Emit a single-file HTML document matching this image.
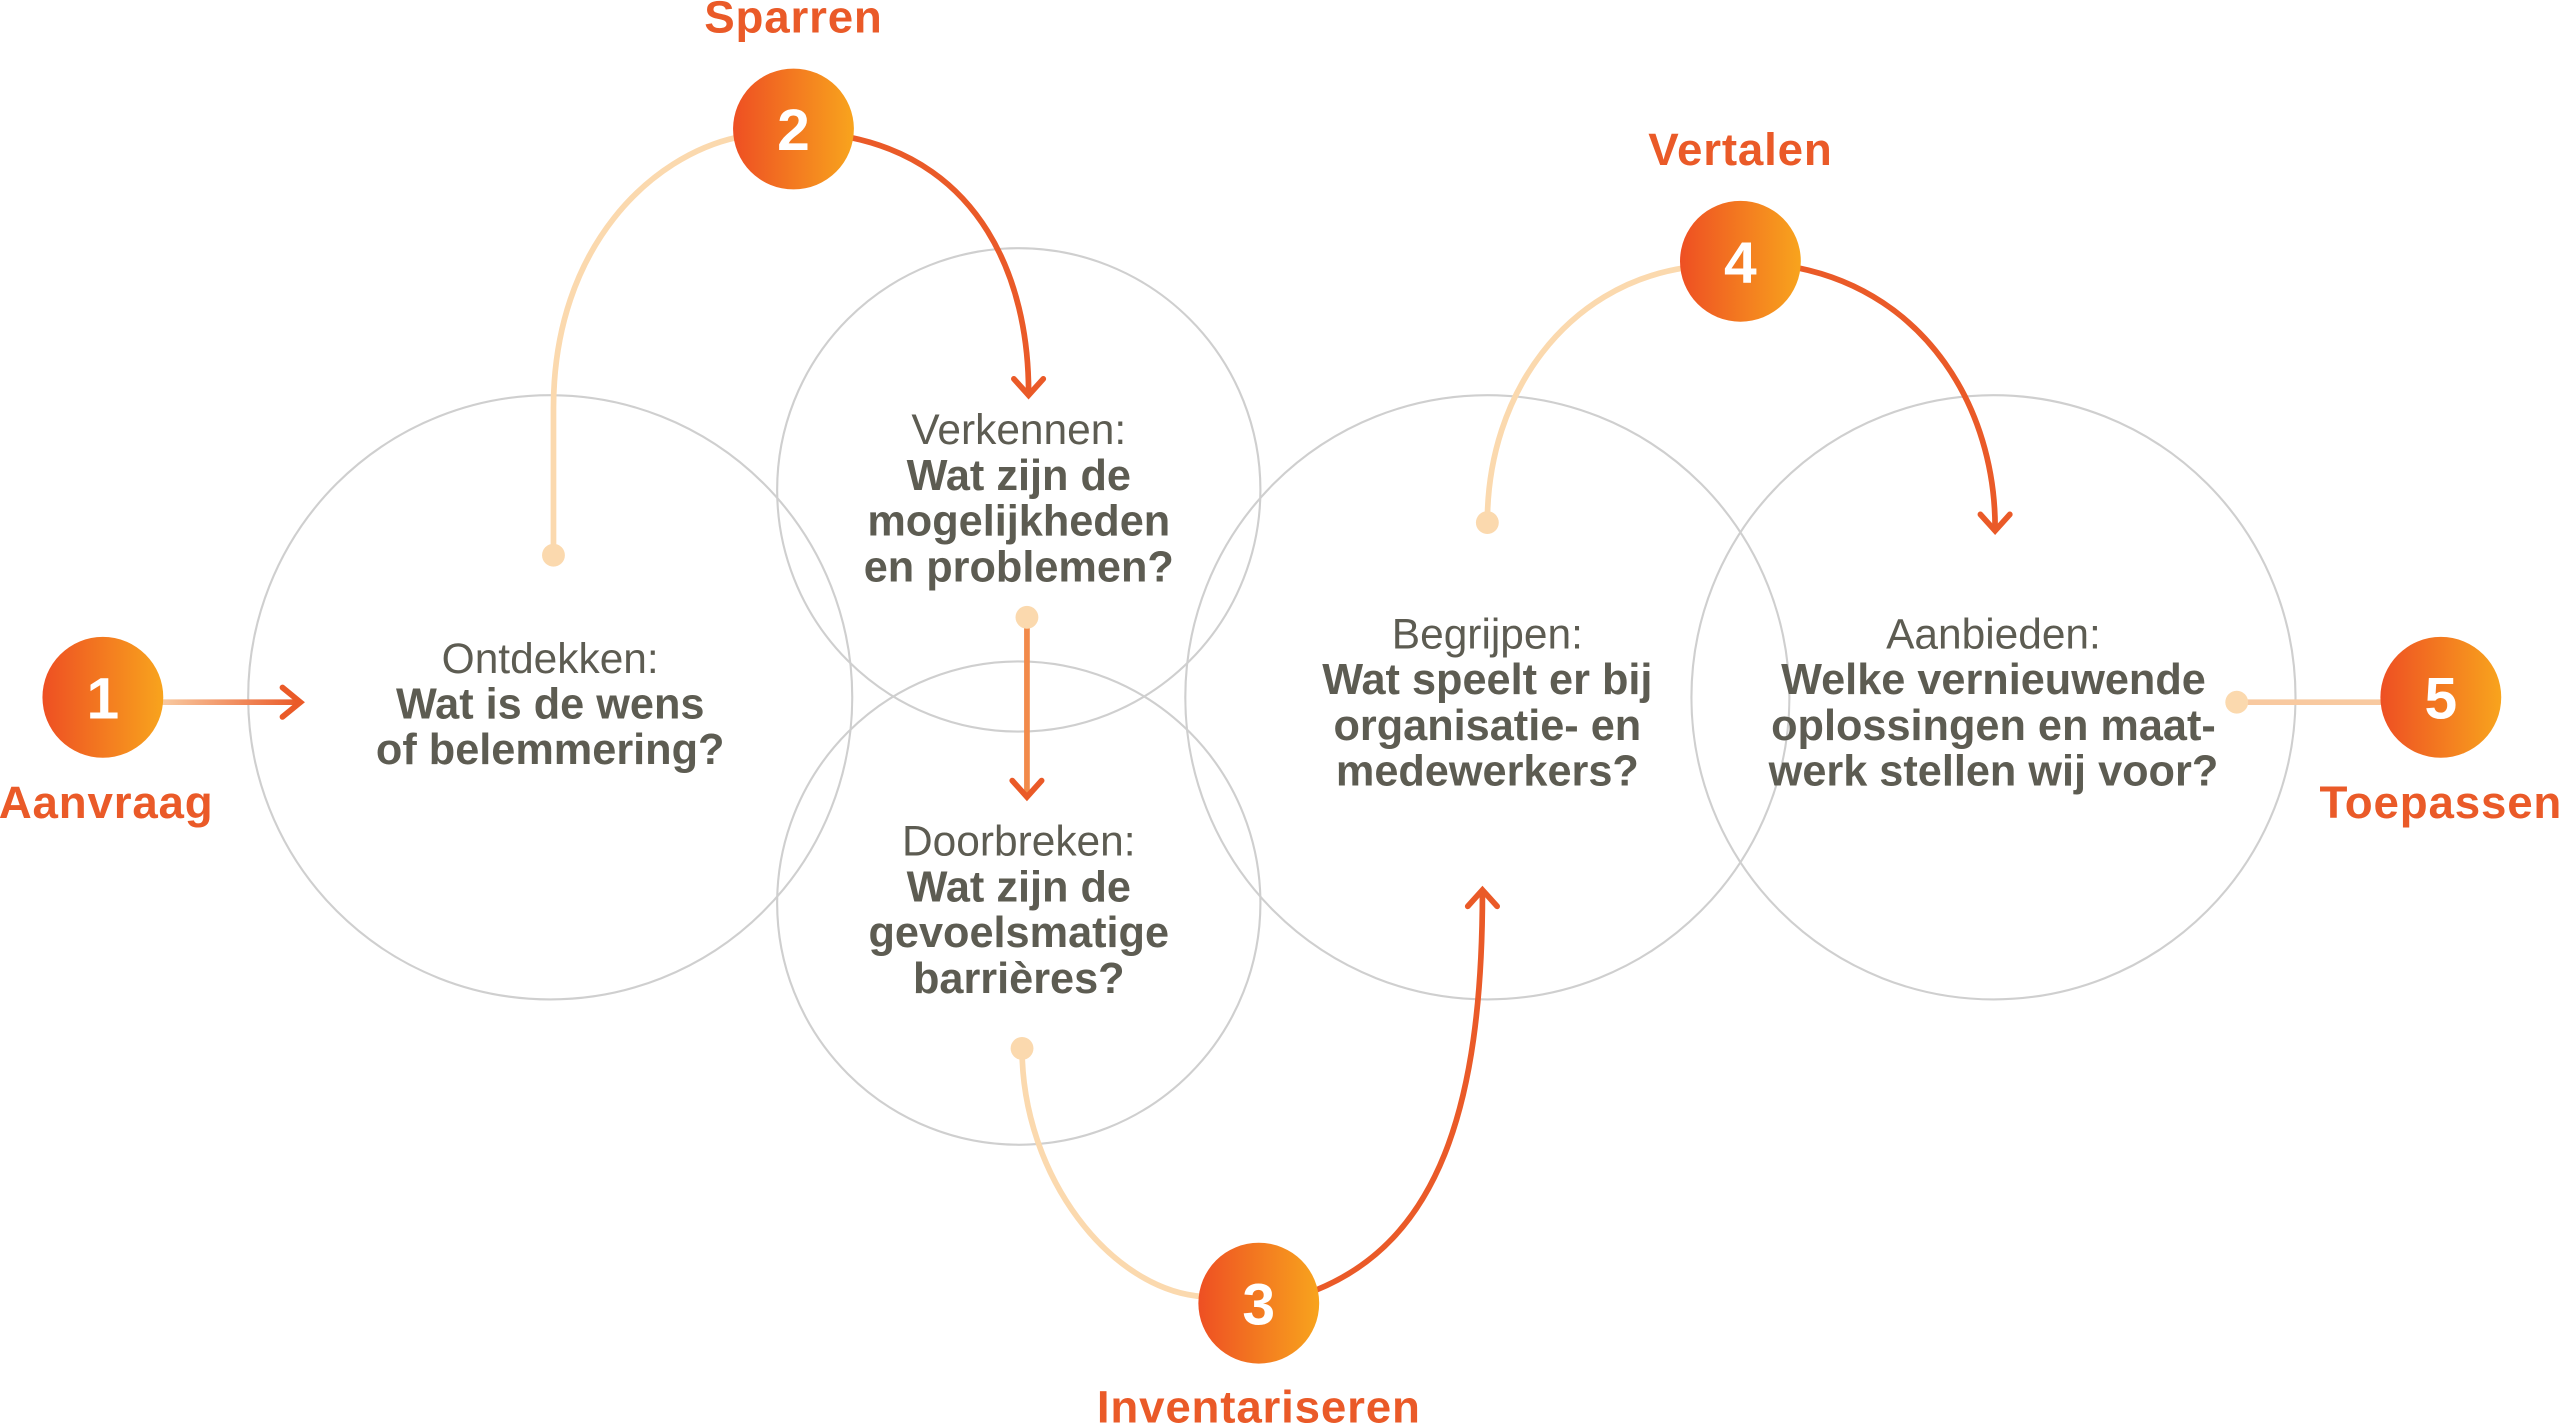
<!DOCTYPE html>
<html><head><meta charset="utf-8"><style>
html,body{margin:0;padding:0;background:#fff;}
svg{display:block;}
.t{font-family:"Liberation Sans",sans-serif;fill:#5d5c52;text-anchor:middle;font-size:26px;}
.b{font-weight:bold;font-size:26.5px;}
.l{font-family:"Liberation Sans",sans-serif;fill:#ea5a28;font-weight:bold;font-size:28px;text-anchor:middle;letter-spacing:0.5px;}
.n{font-family:"Liberation Sans",sans-serif;fill:#fff;font-weight:bold;font-size:36px;text-anchor:middle;}
</style></head><body>
<svg width="2560" height="1424" viewBox="0 0 1568 872" preserveAspectRatio="none">
<defs>
<linearGradient id="g" x1="0" x2="1" y1="0" y2="0"><stop offset="0" stop-color="#ee4f23"/><stop offset="1" stop-color="#f8a41d"/></linearGradient>
<linearGradient id="a1" gradientUnits="userSpaceOnUse" x1="100" y1="0" x2="183" y2="0"><stop offset="0" stop-color="#f8c9a0"/><stop offset="1" stop-color="#ea5a28"/></linearGradient>
</defs>
<g fill="none" stroke="#cfcfcf" stroke-width="1.3">
<circle cx="337" cy="427" r="185"/>
<circle cx="624" cy="300" r="148"/>
<circle cx="624" cy="553" r="148"/>
<circle cx="911" cy="427" r="185"/>
<circle cx="1221" cy="427" r="185"/>
</g>
<g fill="none" stroke-width="3.5" stroke-linecap="round">
<path d="M100 430 L183 430" stroke="url(#a1)"/>
<path d="M173 421 L184 430 L173 439" stroke="#ea5a28"/>
<path d="M339 340 L339 250 C339 150 400 95 452 84" stroke="#fbd9ae"/>
<path d="M520 84 C600 100 630 170 630 240" stroke="#ea5a28"/>
<path d="M621 232 L630 242 L639 232" stroke="#ea5a28"/>
<path d="M629 378 L629 486" stroke="#f28a4a"/>
<path d="M620 478 L629 488 L638 478" stroke="#ea5a28"/>
<path d="M626 642 C626 720 680 790 737 794" stroke="#fbd9ae"/>
<path d="M806 790 C880 760 908 680 908 546" stroke="#ea5a28"/>
<path d="M899 555 L908 545 L917 555" stroke="#ea5a28"/>
<path d="M911 320 C911 240 960 175 1032 164" stroke="#fbd9ae"/>
<path d="M1101 164 C1180 180 1222 250 1222 323" stroke="#ea5a28"/>
<path d="M1213 315 L1222 325 L1231 315" stroke="#ea5a28"/>
<path d="M1370 430 L1460 430" stroke="#f8c9a0"/>
</g>
<g fill="#fbd9ae">
<circle cx="339" cy="340" r="7"/><circle cx="629" cy="378" r="7"/><circle cx="626" cy="642" r="7"/><circle cx="911" cy="320" r="7"/><circle cx="1370" cy="430" r="7"/>
</g>
<g fill="url(#g)">
<circle cx="63" cy="427" r="37"/><circle cx="486" cy="79" r="37"/><circle cx="771" cy="798" r="37"/><circle cx="1066" cy="160" r="37"/><circle cx="1495" cy="427" r="37"/>
</g>
<text class="n" x="63" y="440">1</text>
<text class="n" x="486" y="92">2</text>
<text class="n" x="771" y="811">3</text>
<text class="n" x="1066" y="173">4</text>
<text class="n" x="1495" y="440">5</text>
<text class="l" x="486" y="20">Sparren</text>
<text class="l" x="1066" y="101">Vertalen</text>
<text class="l" x="65" y="501">Aanvraag</text>
<text class="l" x="771" y="871">Inventariseren</text>
<text class="l" x="1495" y="501">Toepassen</text>
<text class="t" x="337" y="412">Ontdekken:</text>
<text class="t b" x="337" y="440">Wat is de wens</text>
<text class="t b" x="337" y="468">of belemmering?</text>
<text class="t" x="624" y="272">Verkennen:</text>
<text class="t b" x="624" y="300">Wat zijn de</text>
<text class="t b" x="624" y="328">mogelijkheden</text>
<text class="t b" x="624" y="356">en problemen?</text>
<text class="t" x="624" y="524">Doorbreken:</text>
<text class="t b" x="624" y="552">Wat zijn de</text>
<text class="t b" x="624" y="580">gevoelsmatige</text>
<text class="t b" x="624" y="608">barrières?</text>
<text class="t" x="911" y="397">Begrijpen:</text>
<text class="t b" x="911" y="425">Wat speelt er bij</text>
<text class="t b" x="911" y="453">organisatie- en</text>
<text class="t b" x="911" y="481">medewerkers?</text>
<text class="t" x="1221" y="397">Aanbieden:</text>
<text class="t b" x="1221" y="425">Welke vernieuwende</text>
<text class="t b" x="1221" y="453">oplossingen en maat-</text>
<text class="t b" x="1221" y="481">werk stellen wij voor?</text>
</svg>
</body></html>
